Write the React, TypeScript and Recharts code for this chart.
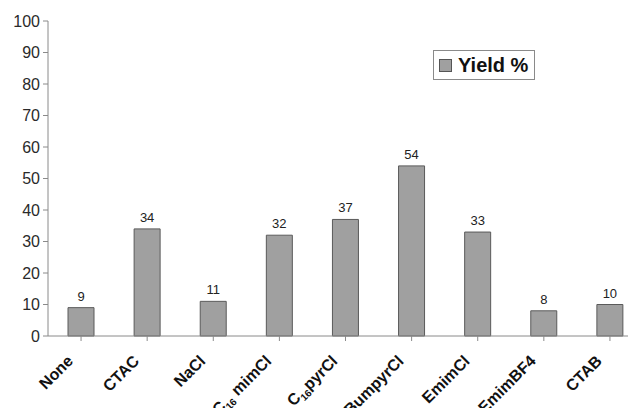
import { Bar, BarChart, LabelList, Legend, XAxis, YAxis } from "recharts";

const categories = ["None", "CTAC", "NaCl", "C16mimCl", "C16pyrCl", "BumpyrCl", "EmimCl", "EmimBF4", "CTAB"];
const yieldValues = [9, 34, 11, 32, 37, 54, 33, 8, 10];
const yTicks = [0, 10, 20, 30, 40, 50, 60, 70, 80, 90, 100];

const data = categories.map((name, i) => ({ name, yield: yieldValues[i] }));

const font = "'Liberation Sans', Arial, sans-serif";
const axisGray = "#8a8a8a";

function CategoryTick(props: any) {
  const { x, y, payload } = props;
  const label: string = payload.value;
  const m = label.match(/^C(\d+)(.*)$/);
  return (
    <g transform={`translate(${x - 7},${y + 19}) rotate(-45)`}>
      <text
        x={0}
        y={0}
        textAnchor="end"
        fontFamily={font}
        fontWeight="bold"
        fontSize={16}
        fill="#111"
      >
        {m ? (
          <>
            <tspan>C</tspan>
            <tspan fontSize={10} dy={4}>
              {m[1]}
            </tspan>
            <tspan dy={-4}>{m[2] === "pyrCl" ? m[2] : " " + m[2]}</tspan>
          </>
        ) : (
          label
        )}
      </text>
    </g>
  );
}

function LegendBox() {
  return (
    <div
      style={{
        border: "1px solid #8a8a8a",
        width: 100,
        height: 28,
        display: "flex",
        alignItems: "center",
        background: "#fff",
        boxSizing: "content-box",
      }}
    >
      <span
        style={{
          display: "inline-block",
          width: 11,
          height: 11,
          background: "#a0a0a0",
          border: "1px solid #555",
          marginLeft: 5,
          marginRight: 6,
        }}
      />
      <span style={{ fontFamily: font, fontWeight: "bold", fontSize: 20, color: "#111" }}>
        Yield %
      </span>
    </div>
  );
}

export default function App() {
  return (
    <div style={{ margin: -8, width: 636, height: 416, overflow: "hidden", position: "relative", background: "#fff" }}>
      <BarChart
        width={650}
        height={416}
        data={data}
        margin={{ top: 21, right: 7, left: 0, bottom: 0 }}
      >
        <XAxis
          dataKey="name"
          height={80}
          interval={0}
          stroke={axisGray}
          tickSize={5}
          tick={<CategoryTick />}
        />
        <YAxis
          width={48}
          domain={[0, 100]}
          ticks={yTicks}
          interval={0}
          stroke={axisGray}
          tickSize={5}
          tickMargin={3}
          tick={{ fontFamily: font, fontSize: 16, fill: "#2a2a2a" }}
        />
        <Legend
          layout="horizontal"
          verticalAlign="middle"
          wrapperStyle={{ top: 50, left: 433, width: "auto" }}
          content={<LegendBox />}
        />
        <Bar
          dataKey="yield"
          name="Yield %"
          fill="#a0a0a0"
          stroke="#5a5a5a"
          strokeWidth={1}
          barSize={26}
          isAnimationActive={false}
        >
          <LabelList
            dataKey="yield"
            position="top"
            offset={7}
            style={{ fontFamily: font, fontSize: 13, fill: "#222" }}
          />
        </Bar>
      </BarChart>
    </div>
  );
}
